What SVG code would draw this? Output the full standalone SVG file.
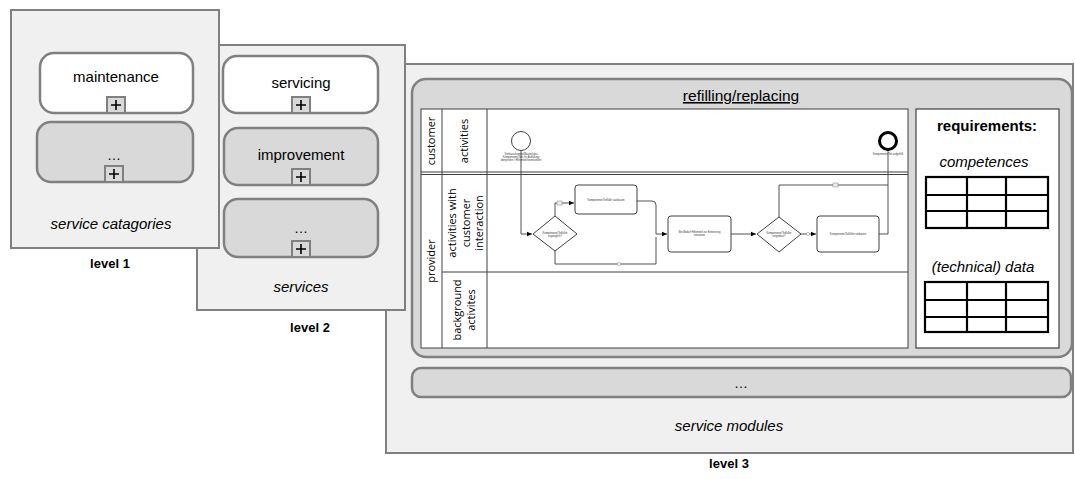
<svg xmlns="http://www.w3.org/2000/svg" width="1075" height="479" viewBox="0 0 1075 479">
<defs>
<style>
.panel{fill:#f0f0f0;stroke:#808080;stroke-width:2}
.wbox{fill:#ffffff;stroke:#808080;stroke-width:2.5}
.gbox{fill:#d9d9d9;stroke:#808080;stroke-width:2.5}
.plus{fill:#d9d9d9;stroke:#808080;stroke-width:2}
.pl{stroke:#000;stroke-width:1.6}
.t{font-family:"Liberation Sans",Arial,sans-serif;fill:#000;text-anchor:middle}
.it{font-style:italic}
.b{font-weight:bold}
.lane{fill:none;stroke:#404040;stroke-width:1}
.lt{font-family:"Open Sans","Liberation Sans",sans-serif;fill:#000;text-anchor:middle;font-size:11px}
.flow{fill:none;stroke:#404040;stroke-width:0.9}
.task{fill:#fff;stroke:#404040;stroke-width:1}
.tiny{font-family:"Liberation Sans",sans-serif;fill:#333;text-anchor:middle;font-size:2.6px}
.tbl{fill:#fff;stroke:#000;stroke-width:2.2}
</style>
<marker id="ar" markerWidth="6" markerHeight="6" refX="5" refY="3" orient="auto" markerUnits="userSpaceOnUse"><path d="M0,0.8 L5,3 L0,5.2 Z" fill="#000"/></marker>
<g id="plusicon"><rect class="plus" x="-9" y="-8" width="18" height="16"/><path class="pl" d="M-5,0 H5 M0,-5 V5"/></g>
</defs>
<rect width="1075" height="479" fill="#fff"/>

<!-- Level 3 -->
<g id="level3">
<rect class="panel" x="386" y="64" width="687" height="389"/>
<text class="t it" x="729" y="431" font-size="15">service modules</text>
<text class="t b" x="729" y="468" font-size="13">level 3</text>
</g>

<g id="module-refilling">
<rect x="412" y="79" width="660" height="278" rx="14" fill="#d9d9d9" stroke="#808080" stroke-width="2.5"/>
<text class="t" x="741" y="101" font-size="15.5" text-decoration="underline">refilling/replacing</text>
</g>

<g id="bpmn-pool">
<rect x="421" y="109" width="487" height="239" fill="#fff" stroke="#404040" stroke-width="1"/>
<line class="lane" x1="442" y1="109" x2="442" y2="348"/>
<line class="lane" x1="487" y1="109" x2="487" y2="348"/>
<line class="lane" x1="421" y1="172" x2="908" y2="172"/>
<line class="lane" x1="421" y1="174.5" x2="908" y2="174.5"/>
<line class="lane" x1="442" y1="272" x2="908" y2="272"/>
<text class="lt" transform="translate(435,141) rotate(-90)">customer</text>
<text class="lt" transform="translate(468,141) rotate(-90)" font-size="13">activities</text>
<text class="lt" transform="translate(435,261) rotate(-90)">provider</text>
<text class="lt" transform="translate(468,223) rotate(-90)" font-size="13"><tspan x="0" y="-12">activities with</tspan><tspan x="0" y="2">customer</tspan><tspan x="0" y="15">interaction</tspan></text>
<text class="lt" transform="translate(466,310) rotate(-90)" font-size="12"><tspan x="0" y="-5">background</tspan><tspan x="0" y="9">activites</tspan></text>
</g>

<g id="connectors">
<path class="flow" d="M521,150.5 V234 H532" marker-end="url(#ar)"/>
<path class="flow" d="M555,216 V203 H574" marker-end="url(#ar)"/>
<rect x="557" y="201" width="5" height="4" fill="#eee" stroke="#666" stroke-width="0.4"/>
<path class="flow" d="M555,251 V264 H656 V237"/>
<circle cx="619" cy="264" r="1.6" fill="#fff" stroke="#666" stroke-width="0.4"/>
<path class="flow" d="M637,201 H652 Q656,201 656,205 V234 H667" marker-end="url(#ar)"/>
<path class="flow" d="M731,234 H756" marker-end="url(#ar)"/>
<path class="flow" d="M801,234 H816" marker-end="url(#ar)"/>
<circle cx="808" cy="234" r="1.6" fill="#fff" stroke="#666" stroke-width="0.4"/>
<path class="flow" d="M779,217 V185 H888"/>
<rect x="833" y="183" width="5" height="4" fill="#eee" stroke="#666" stroke-width="0.4"/>
<path class="flow" d="M879,234 H888 V150"/>
</g>

<g id="start-event">
<circle cx="521" cy="141" r="9.5" fill="#fff" stroke="#404040" stroke-width="1"/>
<text class="tiny" x="521" y="155"><tspan x="521">Verbrauchsmittel/Bauteil des</tspan><tspan x="521" dy="3">Komponente/Teils für Auffüllung</tspan><tspan x="521" dy="3">überprüfen / Hilfsmittel bereitstellen</tspan></text>
</g>
<g id="gateway-1">
<path d="M533,234 L555,216 L577,234 L555,251 Z" fill="#fff" stroke="#404040" stroke-width="1"/>
<text class="tiny" x="555" y="233.5"><tspan x="555">Komponente/Teilfüller</tspan><tspan x="555" dy="3">zugänglich?</tspan></text>
</g>
<g id="task-1">
<rect class="task" x="575" y="185" width="62" height="29" rx="3"/>
<text class="tiny" x="606" y="200.5">Komponente/Teilfüller ausbauen</text>
</g>
<g id="task-2">
<rect class="task" x="668" y="216" width="63" height="36" rx="3"/>
<text class="tiny" x="699.5" y="233"><tspan x="699.5">Bei Bedarf Hilfsmittel zur Entleerung</tspan><tspan x="699.5" dy="3">einsetzen</tspan></text>
</g>
<g id="gateway-2">
<path d="M757,234 L779,217 L801,234 L779,252 Z" fill="#fff" stroke="#404040" stroke-width="1"/>
<text class="tiny" x="779" y="233.5"><tspan x="779">Komponente/Teilfüller</tspan><tspan x="779" dy="3">eingebaut?</tspan></text>
</g>
<g id="task-3">
<rect class="task" x="817" y="216" width="62" height="36" rx="3"/>
<text class="tiny" x="848" y="235">Komponente/Teilfüller einbauen</text>
</g>
<g id="end-event">
<circle cx="888" cy="141" r="8.5" fill="#fff" stroke="#000" stroke-width="3"/>
<text class="tiny" x="888" y="155">Komponente/Teil aufgefüllt</text>
</g>

<g id="requirements">
<rect x="916" y="109" width="143" height="239" fill="#fff" stroke="#404040" stroke-width="1.2"/>
<text class="t b" x="987" y="131" font-size="15">requirements:</text>
<text class="t it" x="984" y="167" font-size="15">competences</text>
<rect class="tbl" x="926" y="177" width="122" height="51"/>
<path d="M967,177 V228 M1006,177 V228 M926,195 H1048 M926,211 H1048" stroke="#000" stroke-width="2.2"/>
<text class="t it" x="983" y="272" font-size="15">(technical) data</text>
<rect class="tbl" x="925" y="282" width="123" height="50"/>
<path d="M967,282 V332 M1006,282 V332 M925,300 H1048 M925,317 H1048" stroke="#000" stroke-width="2.2"/>
</g>

<g id="module-more">
<rect x="412" y="368" width="659" height="29" rx="9" fill="#d9d9d9" stroke="#808080" stroke-width="2.5"/>
<text class="t" x="741" y="388" font-size="14" fill="#444">…</text>
</g>

<!-- Level 2 -->
<g id="level2">
<rect class="panel" x="197" y="45" width="208" height="265"/>
<text class="t it" x="301" y="292" font-size="15">services</text>
<text class="t b" x="310" y="332" font-size="13">level 2</text>
</g>
<g id="servicing">
<rect class="wbox" x="223" y="56" width="155" height="57" rx="14"/>
<text class="t" x="301" y="88" font-size="15">servicing</text>
<use href="#plusicon" x="301" y="105"/>
</g>
<g id="improvement">
<rect class="gbox" x="224" y="128" width="154" height="57" rx="14"/>
<text class="t" x="301" y="160" font-size="15">improvement</text>
<use href="#plusicon" x="301" y="177"/>
</g>
<g id="services-more">
<rect class="gbox" x="224" y="199" width="154" height="58" rx="14"/>
<text class="t" x="301" y="233" font-size="14" fill="#444">…</text>
<use href="#plusicon" x="301" y="249"/>
</g>

<!-- Level 1 -->
<g id="level1">
<rect class="panel" x="11" y="10" width="208" height="238"/>
<text class="t it" x="111" y="229" font-size="15">service catagories</text>
<text class="t b" x="110" y="268" font-size="13">level 1</text>
</g>
<g id="maintenance">
<rect class="wbox" x="40" y="53" width="153" height="60" rx="14"/>
<text class="t" x="116" y="82" font-size="15">maintenance</text>
<use href="#plusicon" x="116" y="105"/>
</g>
<g id="categories-more">
<rect class="gbox" x="37" y="122" width="156" height="60" rx="14"/>
<text class="t" x="114" y="160" font-size="14" fill="#444">…</text>
<use href="#plusicon" x="114" y="174"/>
</g>
</svg>
